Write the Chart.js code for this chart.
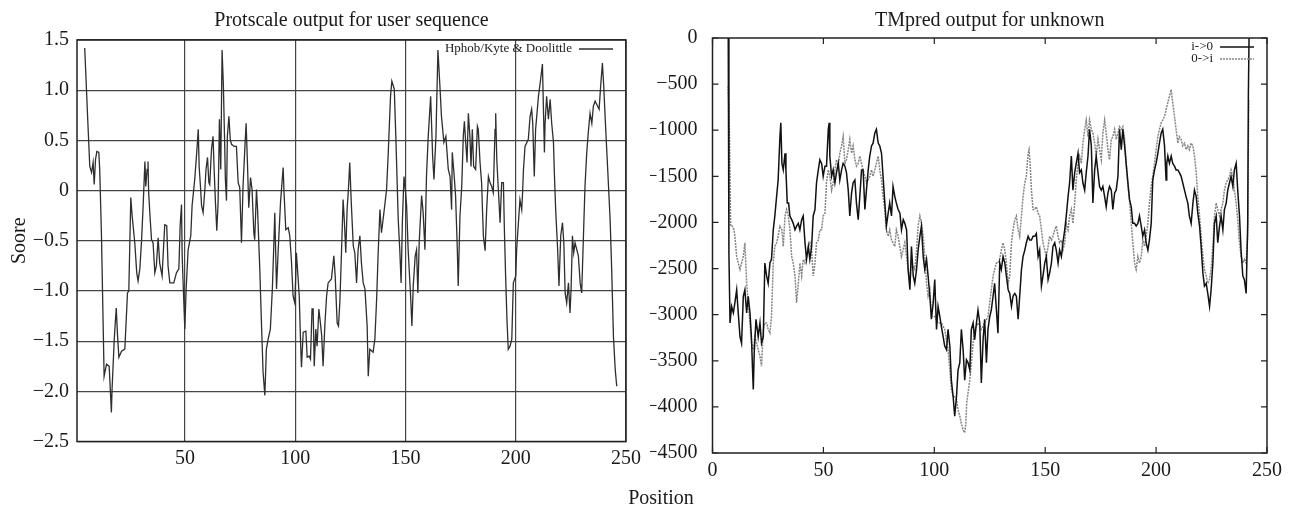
<!DOCTYPE html>
<html>
<head>
<meta charset="utf-8">
<script src="https://cdn.jsdelivr.net/npm/chart.js@4.4.1/dist/chart.umd.min.js"></script>
<style>
  body { margin: 0; background: #fff; width: 1292px; height: 508px; position: relative; overflow: hidden; font-family: "Liberation Serif", serif; }
  #protscale { position: absolute; left: 0; top: 0; }
  #tmpred { position: absolute; left: 650px; top: 0; }
  #xlabel { position: absolute; left: 561px; top: 485px; width: 200px; text-align: center; font-size: 20px; line-height: 24px; color: #1a1a1a; }
</style>
</head>
<body>
<canvas id="protscale" width="650" height="508"></canvas>
<canvas id="tmpred" width="642" height="508"></canvas>
<div id="xlabel">Position</div>
<script>
// Protscale: Hphob / Kyte & Doolittle
const hphobPos = [
  4.5, 6.0, 6.8, 7.6, 8.3, 8.8, 9.4, 10.0, 10.9, 11.3,
  12.1, 13.3, 14.4, 15.6, 16.6, 16.9, 17.9, 18.8, 19.4, 20.0,
  21.2, 22.7, 23.9, 24.5, 25.4, 26.0, 27.2, 28.1, 28.7, 29.5,
  30.3, 31.0, 31.8, 32.2, 32.8, 33.2, 33.5, 34.1, 34.8, 35.5,
  36.3, 37.0, 37.8, 38.5, 39.6, 40.2, 40.8, 41.7, 42.3, 43.1,
  44.9, 46.1, 47.2, 47.8, 48.4, 48.7, 49.3, 49.9, 50.5, 51.4,
  52.6, 53.2, 54.4, 55.5, 56.0, 56.4, 57.0, 57.5, 58.2, 59.0,
  59.5, 60.2, 60.8, 61.2, 62.0, 62.7, 63.2, 63.8, 64.4, 65.0,
  65.6, 66.2, 66.8, 67.4, 68.0, 68.3, 68.8, 69.2, 69.9, 70.5,
  71.1, 72.3, 73.3, 74.1, 74.8, 75.6, 76.3, 77.1, 77.7, 78.3,
  78.9, 79.7, 80.4, 81.2, 81.6, 82.4, 82.9, 83.9,
  84.7, 85.4, 86.2, 86.9, 87.7, 88.7, 89.6, 90.3, 90.7, 91.5,
  92.2, 93.3, 94.5, 94.9, 95.7, 96.8, 97.5, 98.3, 99.0, 99.8,
  100.5, 101.0, 101.8, 102.4, 102.8, 103.6, 104.8, 105.4, 106.3, 106.9,
  107.6, 108.1, 108.6, 109.3, 109.9, 110.7, 111.4, 112.0, 112.6, 113.4,
  114.2, 114.9, 116.4, 117.5, 118.1, 119.0, 119.6, 120.2, 121.0, 121.7,
  122.3, 122.9, 123.5, 124.1, 124.7, 125.4, 126.3, 127.0, 127.8, 128.5,
  129.3, 130.0, 130.8, 131.6, 132.6, 133.1, 133.8, 135.3, 136.1, 136.9,
  137.6, 138.4, 139.1, 140.2, 141.4, 142.1, 143.2, 143.8, 144.9, 145.6,
  146.7, 147.4, 148.0, 148.6, 149.3, 149.9, 150.5, 151.2, 152.3, 152.9,
  153.5, 154.4, 155.0, 155.6, 156.2, 157.3, 158.0, 158.8, 159.5, 160.3,
  161.4, 162.3, 162.9, 163.8, 164.7, 165.6, 166.3, 167.4, 168.3,
  169.4, 170.2, 170.9, 171.2, 172.1, 172.7, 173.5, 173.9, 174.7, 175.5,
  176.2, 176.7, 177.3, 177.9, 178.5, 179.2, 179.7, 180.3, 180.9, 181.8,
  182.6, 183.0, 183.8, 184.5, 185.3, 186.1, 186.8, 187.6, 188.3, 189.1,
  189.8, 190.6, 190.9, 191.4, 192.1, 192.9, 193.6, 194.4, 194.8, 195.4,
  196.0, 196.6, 197.4, 198.2, 198.9, 200.0, 200.4, 201.9, 202.7, 203.1,
  203.5, 204.2, 205.7, 206.5, 207.2, 207.7, 208.4, 209.0, 210.3, 211.3,
  212.1, 212.5, 213.0, 213.3, 214.0, 214.8, 215.6, 216.3, 217.1, 217.5,
  218.1, 219.0, 219.6, 220.4, 221.2, 221.8, 222.4, 223.1, 223.9, 224.6,
  225.1, 225.7, 226.3, 226.9, 227.7, 228.4, 229.2, 229.9, 230.7, 231.4,
  232.2, 232.9, 233.7, 234.5, 235.2, 236.0, 236.7, 237.8, 238.5, 239.3,
  239.9, 240.8, 241.7, 242.8, 243.5, 244.3, 245.1, 245.8
];
const hphobScore = [
  1.42, 0.64, 0.24, 0.18, 0.28, 0.06, 0.31, 0.39, 0.38, 0.21,
  -0.45, -1.85, -1.73, -1.75, -2.21, -1.98, -1.48, -1.17, -1.45, -1.66,
  -1.60, -1.58, -1.02, -1.00, -0.07, -0.25, -0.52, -0.82, -0.90, -0.78,
  -0.49, -0.15, 0.29, 0.04, 0.21, 0.29, -0.02, -0.25, -0.49, -0.52,
  -0.82, -0.75, -0.47, -0.72, -0.85, -0.59, -0.34, -0.35, -0.75, -0.92,
  -0.92, -0.82, -0.78, -0.34, -0.14, -0.65, -1.02, -1.38, -0.98, -0.59,
  -0.45, -0.15, 0.11, 0.44, 0.61, 0.24, 0.04, -0.15, -0.22, 0.01,
  0.21, 0.33, 0.08, 0.06, 0.41, 0.54, 0.21, -0.12, -0.40, -0.12,
  0.71, 0.21, 1.40, 1.04, 0.44, 0.11, -0.10, 0.54, 0.74, 0.51,
  0.46, 0.44, 0.44, 0.08, 0.03, -0.52, 0.04, 0.41, 0.67, 0.28,
  -0.17, 0.13, 0.01, -0.42, -0.49, 0.01, -0.19, -0.78,
  -1.35, -1.81, -2.04, -1.58, -1.48, -1.38, -0.98, -0.52, -0.22, -0.98,
  -0.62, -0.12, 0.23, -0.02, -0.39, -0.37, -0.45, -0.72, -1.05, -1.12,
  -0.62, -0.78, -1.05, -1.51, -1.76, -1.41, -1.40, -1.66, -1.65, -1.68,
  -1.18, -1.18, -1.75, -1.38, -1.55, -1.18, -1.32, -1.45, -1.75, -1.35,
  -1.05, -0.92, -0.88, -0.65, -0.85, -1.32, -1.35, -1.12, -0.59, -0.09,
  -0.32, -0.62, -0.19, 0.01, 0.28, -0.12, -0.55, -0.62, -0.92, -0.59,
  -0.45, -0.72, -0.92, -0.98, -1.35, -1.85, -1.58, -1.61, -1.48, -1.08,
  -0.62, -0.19, -0.42, -0.22, 0.01, 0.34, 0.94, 1.09, 1.01, 0.54,
  -0.29, -0.59, -0.92, -0.29, 0.14, 0.01, -0.15, -0.59, -1.05, -1.35,
  -0.95, -0.65, -0.59, -1.02, -0.52, -0.05, -0.22, -0.59, 0.14, 0.54,
  0.94, 0.34, 0.11, 0.54, 1.40, 1.04, 0.74, 0.48, 0.54,
  0.21, 0.14, -0.19, 0.38, 0.14, -0.05, -0.59, -0.95, -0.25, 0.04,
  0.54, 0.69, 0.48, 0.28, 0.77, 0.54, 0.24, 0.61, 0.24, 0.21,
  0.64, 0.61, 0.28, 0.08, -0.45, -0.60, -0.19, 0.14, 0.08, 0.04,
  -0.02, 0.61, 0.77, 0.31, 0.01, -0.32, 0.08, 0.08, -0.35, -0.85,
  -1.28, -1.58, -1.55, -1.48, -0.92, -0.85, -0.59, -0.09, -0.19, -0.02,
  0.21, 0.44, 0.51, 0.74, 0.81, 0.67, 0.14, 0.61, 0.94, 1.11,
  1.26, 0.87, 0.38, 0.67, 0.94, 0.71, 0.91, 0.67, 0.48, 0.18,
  -0.19, -0.59, -0.95, -0.45, -0.32, -0.52, -1.02, -1.12, -0.92, -1.22,
  -0.98, -0.45, -0.62, -0.52, -0.59, -0.65, -0.92, -1.02, -0.45, 0.04,
  0.38, 0.58, 0.77, 0.67, 0.84, 0.89, 0.86, 0.81, 1.04, 1.27,
  1.04, 0.61, 0.21, -0.29, -0.78, -1.45, -1.78, -1.95
];

// TMpred: i->o (solid) and o->i (dotted)
const tmIoPos = [
  7.1, 7.4, 7.9, 8.6, 9.4, 10.1, 10.9, 11.6, 12.4, 13.1,
  13.9, 14.6, 15.4, 16.1, 16.9, 17.6, 18.1, 18.4, 18.8, 19.6,
  20.2, 20.6, 21.4, 22.1, 22.9, 23.6, 24.4, 25.1, 25.9, 26.6,
  27.4, 28.1, 28.9, 29.6, 30.4, 30.8, 31.3, 31.9, 32.7, 33.1,
  33.7, 34.3, 34.9, 35.7, 36.4, 37.2, 37.9, 38.7, 39.4, 40.2,
  40.9, 41.7, 42.4, 43.2, 43.9, 44.7, 45.4, 46.2, 46.9, 47.7,
  48.4, 49.2, 49.9, 50.7, 51.4, 52.2, 52.6, 52.9, 53.7, 54.4,
  55.2, 55.9, 56.7, 57.4, 58.2, 58.9, 59.7, 60.4, 61.2, 61.9,
  62.7, 63.4, 64.2, 64.9, 65.7, 66.4, 67.2, 67.9, 68.7, 69.4,
  70.2, 70.9, 71.7, 72.4, 73.2, 73.9, 74.7, 75.4, 76.2, 76.9,
  77.7, 78.4, 79.2, 79.9, 80.7, 81.4, 82.2, 82.9, 83.7,
  84.5, 85.2, 86.0, 86.7, 87.5, 88.2, 89.0, 89.7, 90.5, 91.2,
  92.0, 92.7, 93.5, 94.2, 95.0, 95.7, 96.5, 97.2, 98.0, 98.7,
  99.5, 100.2, 101.0, 101.7, 102.5, 103.2, 104.0, 104.7, 105.5, 106.2,
  107.0, 107.7, 108.5, 109.2, 110.0, 110.7, 111.5, 112.2, 113.0, 113.7,
  114.5, 115.2, 116.0, 116.7, 117.5, 118.2, 119.0, 119.7, 120.5, 121.2,
  122.0, 122.7, 123.5, 124.2, 125.0, 125.7, 126.5, 127.2, 128.0, 128.7,
  129.5, 130.2, 131.0, 131.8, 132.5, 133.3, 134.0, 134.8, 135.5, 136.3,
  137.0, 137.8, 138.5, 139.3, 140.0, 140.8, 141.5, 142.3, 143.0, 143.8,
  144.5, 145.3, 146.0, 146.8, 147.5, 148.3, 149.0, 149.8, 150.5, 151.3,
  152.0, 152.8, 153.5, 154.3, 155.0, 155.8, 156.5, 157.3, 158.0, 158.8,
  159.5, 160.3, 161.0, 161.8, 162.5, 163.3, 164.0, 164.8, 165.5, 166.3,
  167.0, 167.8, 168.5, 169.3, 170.0, 170.8, 171.5, 172.3, 173.0, 173.8,
  174.5, 175.3, 176.0, 176.8, 177.5, 178.3, 179.0, 179.8, 180.5, 181.3,
  182.0, 182.8, 183.5, 184.3, 185.0, 185.8, 186.5, 187.3, 188.0, 188.8,
  189.5, 190.3, 191.0, 191.8, 192.5, 193.3, 194.0, 194.8, 195.5, 196.3,
  197.0, 197.8, 198.5, 199.3, 200.0, 200.8, 201.5, 202.3, 203.0, 203.8,
  204.5, 204.8, 205.3, 206.0, 206.8, 207.5, 208.3, 209.0, 209.8, 210.5,
  211.3, 212.0, 212.8, 213.5, 214.3, 215.0, 215.8, 216.6, 217.3, 218.1,
  218.8, 219.6, 220.3, 221.1, 221.8, 222.6, 223.3, 224.1, 224.8, 225.6,
  226.3, 227.1, 227.8, 228.6, 229.3, 230.1, 230.8, 231.6, 232.3, 233.1,
  233.8, 234.6, 235.3, 236.1, 236.8, 237.6, 238.3, 239.1, 239.8, 240.6,
  241.3, 241.6, 241.9
];
const tmIo = [
  0, -2330, -3090, -2910, -2980, -2870, -2730, -2980, -3240, -3310,
  -2800, -2730, -2980, -2800, -2980, -3270, -3630, -3810, -3420, -3050,
  -3160, -3240, -3090, -3310, -3240, -2440, -2580, -2660, -2440, -2400,
  -2080, -1930, -1720, -1540, -1070, -920, -1360, -1430, -1250, -1430,
  -1790, -1790, -1930, -1970, -2010, -2080, -2040, -2010, -2080, -1970,
  -1930, -2220, -2400, -2260, -2400, -2260, -1930, -1860, -1570, -1430,
  -1320, -1360, -1500, -1390, -1390, -990, -920, -1280, -1500, -1430,
  -1570, -1460, -1360, -1540, -1430, -1360, -1390, -1460, -1650, -1930,
  -1680, -1570, -1540, -1790, -1970, -1720, -1430, -1430, -1860, -1650,
  -1430, -1280, -1170, -1140, -1030, -990, -1140, -1170, -1250, -1500,
  -1790, -2040, -1900, -1790, -1930, -1610, -1720, -1790, -1860,
  -1900, -2080, -1970, -2010, -2080, -2510, -2730, -2260, -2580, -2660,
  -2510, -2300, -2150, -2040, -2370, -2510, -2400, -2580, -2800, -3050,
  -2870, -2620, -3160, -2910, -3020, -3130, -3240, -3340, -3380, -3160,
  -3340, -3710, -3890, -4100, -3890, -3600, -3520, -3160, -3380, -3710,
  -3490, -3520, -3600, -3160, -3090, -3270, -3090, -2950, -3090, -3740,
  -3270, -3050, -3520, -3160, -3020, -2950, -2800, -2660, -2950, -3200,
  -2440, -2510, -2370, -2440, -2580, -2730, -2770, -2910, -2800, -2770,
  -2800, -3050, -2800, -2510, -2370, -2300, -2220, -2150, -2190, -2190,
  -2150, -2150, -2120, -2370, -2300, -2690, -2580, -2440, -2370, -2620,
  -2550, -2440, -2260, -2220, -2300, -2440, -2300, -2370, -2220, -2080,
  -1930, -1720, -1570, -1280, -1650, -1460, -1360, -1250, -1460, -1430,
  -1570, -1650, -1460, -1280, -990, -1170, -1790, -1430, -1280, -1460,
  -1610, -1650, -1610, -1720, -1830, -1680, -1610, -1650, -1860, -1680,
  -1650, -1500, -990, -1210, -990, -1170, -1360, -1570, -1750, -1830,
  -2010, -2010, -2040, -2010, -1930, -2040, -2150, -2080, -2220, -2300,
  -2190, -2010, -1540, -1430, -1360, -1250, -1140, -1030, -990, -1170,
  -1540, -1360, -1280, -1360, -1280, -1360, -1390, -1430, -1430, -1460,
  -1500, -1570, -1650, -1720, -1790, -1930, -2010, -1790, -1650, -1720,
  -1900, -2040, -2260, -2550, -2690, -2660, -2770, -2910, -2730, -2440,
  -2010, -1930, -2220, -2040, -1930, -2080, -1860, -1790, -1650, -1570,
  -1500, -1610, -1430, -1360, -1650, -1930, -2300, -2580, -2620, -2770,
  -2010, -630, 0
];
const tmOiPos = [
  7.1, 7.6, 8.2, 8.9, 9.7, 10.1, 10.9, 11.6, 12.4, 13.1,
  13.9, 14.6, 15.4, 16.1, 16.9, 17.6, 18.4, 19.1, 19.9, 20.6,
  21.4, 22.1, 22.9, 23.6, 24.4, 25.1, 25.9, 26.6, 27.4, 28.1,
  28.9, 29.6, 30.4, 31.3, 31.9, 32.7, 33.4, 34.2, 34.9, 35.7,
  36.4, 37.2, 37.9, 38.7, 39.4, 40.2, 40.9, 41.7, 42.4, 43.2,
  43.9, 44.7, 45.4, 46.2, 46.9, 47.7, 48.4, 49.2, 49.9, 50.7,
  51.4, 52.2, 52.9, 53.7, 54.4, 55.2, 55.9, 56.7, 57.4, 58.2,
  58.9, 59.7, 60.4, 61.2, 61.9, 62.7, 63.4, 64.2, 64.9, 65.7,
  66.4, 67.2, 67.9, 68.7, 69.4, 70.2, 70.9, 71.7, 72.4, 73.2,
  73.9, 74.7, 75.4, 76.2, 76.9, 77.7, 78.4, 79.2, 79.9, 80.7,
  81.4, 82.2, 82.9,
  83.7, 85.2, 86.7, 88.2, 89.0, 89.7, 91.2, 92.0, 92.7, 93.5,
  94.2, 95.0, 95.7, 96.5, 97.2, 98.0, 98.7, 100.2, 101.7, 103.2,
  104.7, 106.2, 107.0, 107.7, 108.5, 109.2, 110.0, 110.7, 111.5, 112.2,
  113.0, 113.7, 114.2, 114.6, 115.2, 116.0, 116.7, 117.5, 118.2, 119.7,
  121.2, 122.7, 124.2, 125.0, 125.7, 126.5, 127.2, 128.0, 128.7, 129.5,
  130.2, 131.0, 131.8, 132.5, 133.3, 134.0, 134.8, 135.5, 136.3, 137.0,
  137.8, 138.5, 139.3, 140.0, 140.8, 141.5, 142.3, 142.7, 143.2, 143.8,
  144.5, 145.3, 146.0, 146.8, 147.5, 148.3, 149.0, 149.8, 150.5, 151.3,
  152.0, 152.8, 153.5, 154.3, 155.0, 155.8, 156.5, 157.3, 158.0, 158.8,
  159.5, 160.3, 161.0, 161.8, 162.5, 163.3, 164.0, 164.8, 165.5, 166.3,
  167.0, 167.8, 168.5, 169.3, 170.0, 170.8, 171.5, 172.3, 173.0, 173.8,
  174.5, 175.3, 176.0, 176.8, 177.5, 178.3, 179.0, 179.8, 180.5, 181.3,
  182.0, 182.8, 183.5, 184.3, 185.0, 185.8, 186.5, 187.3, 188.0, 188.8,
  189.5, 190.3, 191.0, 191.8, 192.5, 193.3, 194.0, 194.8, 195.5, 196.3,
  197.0, 197.8, 198.5, 199.3, 200.0, 200.8, 201.5, 202.3, 203.0, 203.8,
  204.5, 205.3, 206.0, 206.8, 207.5, 208.3, 209.0, 209.8, 210.5, 211.3,
  212.0, 212.8, 213.5, 214.3, 215.0, 215.8, 216.6, 217.3, 218.1, 218.8,
  219.6, 220.3, 221.1, 221.8, 222.6, 223.3, 224.1, 224.8, 225.6, 226.3,
  227.1, 227.8, 228.6, 229.3, 230.1, 230.8, 231.6, 232.3, 233.1, 233.8,
  234.6, 235.3, 236.1, 236.8, 237.6, 238.3, 239.1, 239.8, 240.6, 241.3,
  241.8
];
const tmOi = [
  -520, -990, -2040, -2040, -2080, -2150, -2370, -2440, -2510, -2440,
  -2370, -2220, -2660, -2870, -3090, -3310, -3380, -3240, -3310, -3380,
  -3450, -3560, -3160, -3090, -3090, -3160, -3200, -3020, -2440, -2260,
  -2220, -2150, -2040, -2080, -2260, -1930, -1860, -1930, -2080, -2370,
  -2440, -2580, -2870, -2660, -2440, -2580, -2400, -2440, -2370, -2260,
  -2220, -2300, -2580, -2440, -2220, -2190, -2080, -2080, -1930, -1900,
  -1570, -1430, -1500, -1650, -1570, -1430, -1320, -1390, -1250, -1170,
  -1070, -1360, -1320, -1210, -1100, -1250, -1170, -1320, -1390, -1360,
  -1280, -1360, -1430, -1500, -1570, -1540, -1500, -1430, -1500, -1430,
  -1360, -1280, -1430, -1540, -1720, -1860, -2080, -2150, -2080, -2190,
  -2220, -2260, -2080,
  -2150, -2370, -2220, -2510, -2660, -2440, -2510, -2300, -2040, -1930,
  -2010, -2150, -2370, -2660, -2800, -2730, -3020, -3020, -3090, -3090,
  -3160, -3380, -3600, -3810, -3890, -3890, -3920, -4030, -4100, -4180,
  -4250, -4280, -4180, -3960, -3850, -3710, -3520, -3310, -3160, -3090,
  -3160, -3090, -3020, -2870, -2730, -2580, -2510, -2440, -2440, -2400,
  -2300, -2220, -2300, -2440, -2660, -2580, -2220, -2080, -1970, -1930,
  -2080, -2150, -1930, -1720, -1570, -1500, -1250, -1210, -1360, -1650,
  -1860, -1860, -1830, -1900, -1930, -2080, -2220, -2300, -2370, -2260,
  -2150, -2190, -2150, -2080, -2040, -2150, -2220, -2190, -2300, -2220,
  -2010, -2080, -1930, -1860, -2010, -1790, -1540, -1360, -1280, -1360,
  -1140, -990, -890, -1070, -890, -990, -1030, -1140, -1280, -1100,
  -1210, -1320, -1030, -890, -1030, -1210, -1320, -1100, -1070, -990,
  -1100, -1030, -960, -990, -960, -1100, -1360, -1610, -1750, -2010,
  -2220, -2440, -2510, -2370, -2440, -2370, -2190, -2260, -2150, -2010,
  -1790, -1610, -1500, -1360, -1210, -1070, -990, -920, -890, -850,
  -780, -700, -630, -560, -700, -850, -990, -1140, -1070, -1100,
  -1170, -1140, -1210, -1170, -1210, -1140, -1170, -1280, -1460, -1720,
  -1930, -2150, -2370, -2510, -2580, -2660, -2620, -2510, -2260, -1930,
  -1790, -1860, -1930, -1860, -1790, -1650, -1570, -1540, -1500, -1430,
  -1500, -1650, -1790, -1970, -2220, -2370, -2440, -2400, -2440, -2150,
  -670
];

const protXTicks = [50, 100, 150, 200, 250];
const tmXTicks = [0, 50, 100, 150, 200, 250];

const serif = 'Liberation Serif';
const ink = '#1a1a1a';

function points(xs, ys) {
  return xs.map((x, i) => ({ x: x, y: ys[i] }));
}

// box around the plot area
const frame = {
  id: 'frame',
  afterDraw(chart, args, opts) {
    const a = chart.chartArea;
    const ctx = chart.ctx;
    ctx.save();
    ctx.strokeStyle = '#222';
    ctx.lineWidth = 1.5;
    ctx.strokeRect(a.left, a.top, a.right - a.left, a.bottom - a.top);
    if (opts.innerTicks) {
      ctx.lineWidth = 1.2;
      ctx.beginPath();
      chart.scales.x.ticks.forEach(t => {
        const px = chart.scales.x.getPixelForValue(t.value);
        ctx.moveTo(px, a.bottom); ctx.lineTo(px, a.bottom - 6);
        ctx.moveTo(px, a.top); ctx.lineTo(px, a.top + 6);
      });
      chart.scales.y.ticks.forEach(t => {
        const py = chart.scales.y.getPixelForValue(t.value);
        ctx.moveTo(a.left, py); ctx.lineTo(a.left + 6, py);
        ctx.moveTo(a.right, py); ctx.lineTo(a.right - 6, py);
      });
      ctx.stroke();
    }
    ctx.restore();
  }
};

// gnuplot style key: text then line sample, top right inside the plot
const cornerKey = {
  id: 'cornerKey',
  afterDraw(chart) {
    const a = chart.chartArea;
    const ctx = chart.ctx;
    ctx.save();
    ctx.font = '13px "Liberation Serif"';
    ctx.textAlign = 'right';
    ctx.textBaseline = 'middle';
    chart.data.datasets.forEach((ds, i) => {
      const y = a.top + 9 + i * 12;
      ctx.fillStyle = ink;
      ctx.fillText(ds.label, a.right - 54, y);
      ctx.strokeStyle = ds.borderColor;
      ctx.lineWidth = ds.borderWidth;
      ctx.setLineDash(ds.borderDash || []);
      ctx.beginPath();
      ctx.moveTo(a.right - 47, y);
      ctx.lineTo(a.right - 13, y);
      ctx.stroke();
    });
    ctx.restore();
  }
};

const tickFont = { family: serif, size: 20 };
const titleFont = { family: serif, size: 20, weight: 'normal' };

new Chart(document.getElementById('protscale'), {
  type: 'line',
  data: {
    datasets: [{
      label: 'Hphob/Kyte & Doolittle',
      data: points(hphobPos, hphobScore),
      borderColor: '#2e2e2e',
      borderWidth: 1.3,
      pointRadius: 0,
      tension: 0
    }]
  },
  options: {
    responsive: false,
    animation: false,
    devicePixelRatio: 1,
    layout: { padding: { top: 0, right: 24, bottom: 0, left: 0 } },
    plugins: {
      legend: { display: false },
      tooltip: { enabled: false },
      title: {
        display: true,
        text: 'Protscale output for user sequence',
        fullSize: false,
        color: ink,
        font: titleFont,
        padding: { top: 9, bottom: 7 }
      },
      frame: { innerTicks: false }
    },
    scales: {
      x: {
        type: 'linear',
        min: 1,
        max: 250,
        afterBuildTicks: axis => { axis.ticks = protXTicks.map(v => ({ value: v })); },
        afterFit: axis => { axis.height = 66.5; },
        grid: { color: '#444', lineWidth: 1.2, drawTicks: false },
        border: { display: false },
        ticks: { color: ink, font: tickFont, padding: 5, maxRotation: 0 }
      },
      y: {
        min: -2.5,
        max: 1.5,
        afterFit: axis => { axis.width = 77; },
        grid: { color: '#444', lineWidth: 1.2, drawTicks: false },
        border: { display: false },
        ticks: {
          stepSize: 0.5,
          color: ink,
          font: tickFont,
          padding: 8,
          callback: v => v === 0 ? '0' : v.toFixed(1).replace('-', '\u2212')
        },
        title: { display: true, text: 'Soore', color: ink, font: { family: serif, size: 20 }, padding: { top: 8, bottom: 0 } }
      }
    }
  },
  plugins: [frame, cornerKey]
});

new Chart(document.getElementById('tmpred'), {
  type: 'line',
  data: {
    datasets: [{
      label: 'i->0',
      data: points(tmIoPos, tmIo),
      borderColor: '#111',
      borderWidth: 1.5,
      pointRadius: 0,
      tension: 0
    }, {
      label: '0->i',
      data: points(tmOiPos, tmOi),
      borderColor: '#858585',
      borderWidth: 1.5,
      borderDash: [2, 1],
      pointRadius: 0,
      tension: 0
    }]
  },
  options: {
    responsive: false,
    animation: false,
    devicePixelRatio: 1,
    layout: { padding: { top: 0, right: 25, bottom: 0, left: 0 } },
    plugins: {
      legend: { display: false },
      tooltip: { enabled: false },
      title: {
        display: true,
        text: 'TMpred output for unknown',
        fullSize: false,
        color: ink,
        font: titleFont,
        padding: { top: 9, bottom: 5 }
      },
      frame: { innerTicks: true }
    },
    scales: {
      x: {
        type: 'linear',
        min: 0,
        max: 250,
        afterBuildTicks: axis => { axis.ticks = tmXTicks.map(v => ({ value: v })); },
        afterFit: axis => { axis.height = 55; },
        grid: { display: false },
        border: { display: false },
        ticks: { color: ink, font: tickFont, padding: -2, maxRotation: 0 }
      },
      y: {
        min: -4500,
        max: 0,
        afterFit: axis => { axis.width = 62.5; },
        grid: { display: false },
        border: { display: false },
        ticks: {
          stepSize: 500,
          color: ink,
          font: tickFont,
          padding: 7,
          callback: v => v === 0 ? '0' : '\u2212' + Math.abs(v)
        }
      }
    }
  },
  plugins: [frame, cornerKey]
});
</script>
</body>
</html>
